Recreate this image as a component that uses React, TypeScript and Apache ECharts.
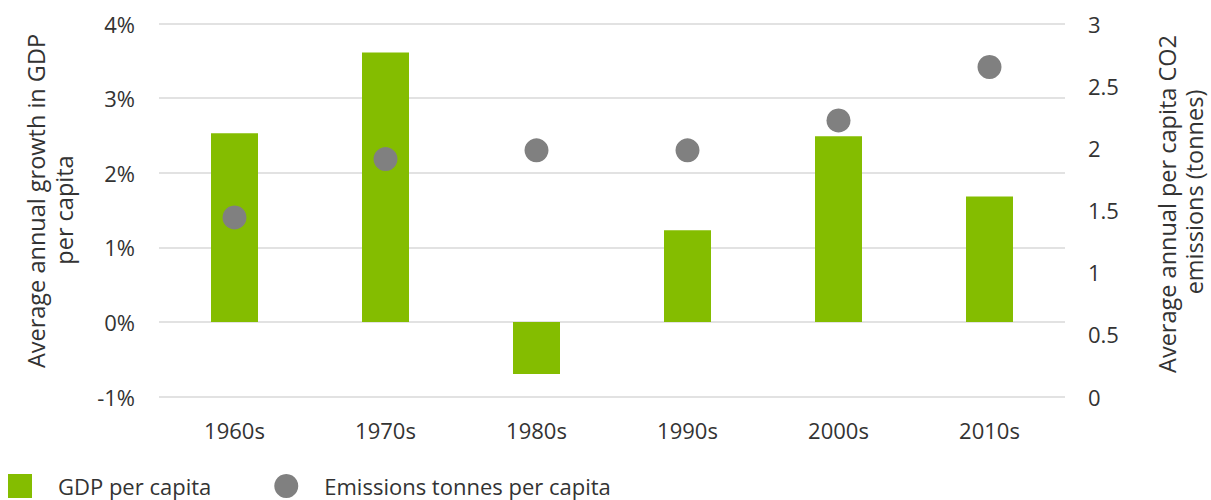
import React, { useEffect, useRef } from "react";
import * as echarts from "echarts";

const categories = ["1960s", "1970s", "1980s", "1990s", "2000s", "2010s"];
const gdpGrowth = [2.53, 3.61, -0.7, 1.23, 2.49, 1.68];
const emissions = [1.44, 1.91, 1.98, 1.98, 2.22, 2.65];
const leftTicks = { min: -1, max: 4, interval: 1 };
const rightTicks = { min: 0, max: 3, interval: 0.5 };
const leftTitleLines = ["Average annual growth in GDP", "per capita"];
const rightTitleLines = ["Average annual per capita CO2", "emissions (tonnes)"];

const FONT = "'Open Sans', sans-serif";
const TEXT = "#333333";

function titleText(text: string, x: number, y: number) {
  return {
    type: "text",
    x,
    y,
    rotation: Math.PI / 2,
    style: {
      text,
      fill: TEXT,
      fontSize: 23.5,
      fontFamily: FONT,
      textAlign: "center",
      textVerticalAlign: "middle",
    },
  };
}

export default function App() {
  const ref = useRef<HTMLDivElement>(null);
  useEffect(() => {
    if (!ref.current) return;
    const chart = echarts.init(ref.current, undefined, { renderer: "svg" });
    chart.setOption({
      animation: false,
      textStyle: { fontFamily: FONT },
      grid: { left: 159, right: 146, top: 23.5, bottom: 103.5, outerBoundsMode: "none", containLabel: false },
      graphic: [
        titleText(leftTitleLines[0], 36, 201),
        titleText(leftTitleLines[1], 64, 210),
        titleText(rightTitleLines[0], 1167, 204),
        titleText(rightTitleLines[1], 1194, 192),
      ],
      legend: {
        left: 8,
        top: 474,
        padding: 0,
        itemWidth: 24,
        itemHeight: 24,
        itemGap: 63,
        textStyle: { fontSize: 22, lineHeight: 22, color: TEXT, fontFamily: FONT, padding: [0, 0, 0, 21] },
        data: [
          { name: "GDP per capita", icon: "rect" },
          { name: "Emissions tonnes per capita", icon: "circle" },
        ],
      },
      xAxis: {
        type: "category",
        data: categories,
        axisLine: { show: false, onZero: false },
        axisTick: { show: false },
        axisLabel: { fontSize: 22, color: TEXT, margin: 22, fontFamily: FONT },
      },
      yAxis: [
        {
          type: "value",
          ...leftTicks,
          axisLine: { show: false },
          axisTick: { show: false },
          axisLabel: { fontSize: 22, color: TEXT, margin: 24, formatter: "{value}%", fontFamily: FONT },
          splitLine: { lineStyle: { color: "#d9d9d9", width: 1.5 } },
        },
        {
          type: "value",
          ...rightTicks,
          axisLine: { show: false },
          axisTick: { show: false },
          axisLabel: { fontSize: 22, color: TEXT, margin: 23, fontFamily: FONT },
          splitLine: { show: false },
        },
      ],
      series: [
        {
          name: "GDP per capita",
          type: "bar",
          data: gdpGrowth,
          barWidth: 47,
          itemStyle: { color: "#84bd00" },
          yAxisIndex: 0,
        },
        {
          name: "Emissions tonnes per capita",
          type: "scatter",
          data: emissions,
          symbolSize: 24,
          itemStyle: { color: "#808080", opacity: 1 },
          yAxisIndex: 1,
        },
      ],
    });
    return () => chart.dispose();
  }, []);
  return <div ref={ref} style={{ width: 1211, height: 500, position: "absolute", left: 0, top: 0 }} />;
}
